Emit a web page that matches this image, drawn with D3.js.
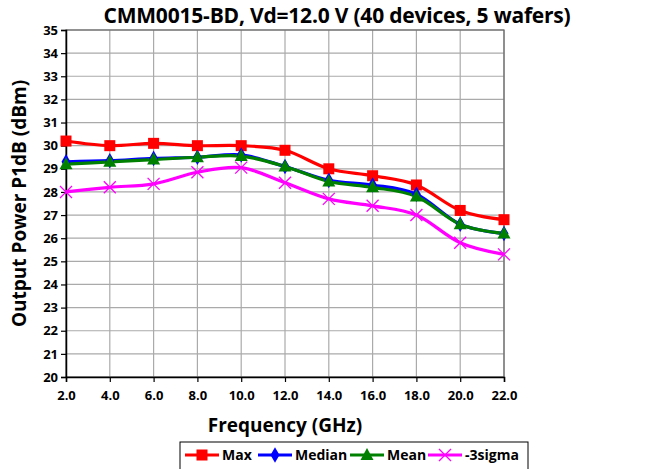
<!DOCTYPE html>
<html>
<head>
<meta charset="utf-8">
<script src="https://cdn.jsdelivr.net/npm/d3@7"></script>
<style>
	body { margin: 0; background: #fff; }
	text { font-family: "Open Sans", "Noto Sans", sans-serif; font-weight: bold; }
</style>
</head>
<body>
<svg id="chart" width="666" height="469"></svg>
<script>
	var freqs = [ 2, 4, 6, 8, 10, 12, 14, 16, 18, 20, 22 ];
	var maxVals = [ 30.2, 30.0, 30.1, 30.0, 30.0, 29.8, 29.0, 28.7, 28.3, 27.2, 26.8 ];
	var medianVals = [ 29.3, 29.35, 29.45, 29.5, 29.6, 29.1, 28.5, 28.3, 27.9, 26.6, 26.2 ];
	var meanVals = [ 29.2, 29.3, 29.4, 29.5, 29.55, 29.1, 28.45, 28.2, 27.8, 26.6, 26.2 ];
	var sigmaVals = [ 28.0, 28.2, 28.35, 28.85, 29.05, 28.4, 27.7, 27.4, 27.0, 25.8, 25.3 ];
	var seriesNames = [ "Max", "Median", "Mean", "-3sigma" ];
	var yTicks = d3.range(20, 36, 1);

	var series = [
		{ name : seriesNames[0], values : maxVals, color : "#ff0000", marker : "square" },
		{ name : seriesNames[1], values : medianVals, color : "#0000ff", marker : "diamond" },
		{ name : seriesNames[2], values : meanVals, color : "#008000", marker : "triangle" },
		{ name : seriesNames[3], values : sigmaVals, color : "#ff00ff", marker : "cross" }
	];

	var svg = d3.select("#chart");
	var plotLeft = 66, plotRight = 504, plotTop = 30, plotBottom = 377;

	var xScale = d3.scaleLinear().domain([ 2, 22 ]).range([ plotLeft, plotRight ]);
	var yScale = d3.scaleLinear().domain([ 20, 35 ]).range([ plotBottom, plotTop ]);

	// grid
	svg.append("g").selectAll("line").data(yTicks).enter().append("line")//
	.attr("x1", plotLeft).attr("x2", plotRight)//
	.attr("y1", function(d) { return yScale(d); })//
	.attr("y2", function(d) { return yScale(d); })//
	.style("stroke", "#aaa").style("stroke-width", 1.2);
	svg.append("g").selectAll("line").data(freqs).enter().append("line")//
	.attr("y1", plotTop).attr("y2", plotBottom)//
	.attr("x1", function(d) { return xScale(d); })//
	.attr("x2", function(d) { return xScale(d); })//
	.style("stroke", "#aaa").style("stroke-width", 1.2);
	svg.append("rect").attr("x", plotLeft).attr("y", plotTop).attr("width", plotRight - plotLeft).attr("height", plotBottom - plotTop)//
	.style("fill", "none").style("stroke", "#666").style("stroke-width", 1.2);

	// axes
	var yAxis = d3.axisLeft(yScale).tickValues(yTicks).tickSize(5).tickPadding(3).tickFormat(d3.format("d"));
	var gy = svg.append("g").attr("transform", "translate(" + plotLeft + ",0)").call(yAxis);
	var xAxis = d3.axisBottom(xScale).tickValues(freqs).tickSize(5).tickPadding(9).tickFormat(d3.format(".1f"));
	var gx = svg.append("g").attr("transform", "translate(0," + plotBottom + ")").call(xAxis);
	[ gy, gx ].forEach(function(g) {
		g.select(".domain").style("stroke", "#000").style("stroke-width", 1.5);
		g.selectAll(".tick line").style("stroke", "#000").style("stroke-width", 1.2);
		g.selectAll("text").style("font-size", "13px").style("fill", "#000")//
		.style("font-family", "'Open Sans', sans-serif").style("font-weight", "bold");
	});

	// lines
	var line = d3.line()//
	.x(function(d, i) { return xScale(freqs[i]); })//
	.y(function(d) { return yScale(d); })//
	.curve(d3.curveCatmullRom.alpha(0));

	function drawMarker(g, type, color, x, y) {
		if (type === "square") {
			g.append("rect").attr("x", x - 5.5).attr("y", y - 5.5).attr("width", 11).attr("height", 11).style("fill", color);
		} else if (type === "diamond") {
			g.append("path").attr("d", d3.symbol().type(d3.symbolDiamond).size(70)()).attr("transform", "translate(" + x + "," + y + ")").style("fill", color);
		} else if (type === "triangle") {
			g.append("path").attr("d", "M" + x + "," + (y - 7) + "L" + (x + 6.5) + "," + (y + 5) + "L" + (x - 6.5) + "," + (y + 5) + "Z").style("fill", color);
		} else {
			g.append("path").attr("d", "M" + (x - 6) + "," + (y - 6) + "L" + (x + 6) + "," + (y + 6) + "M" + (x - 6) + "," + (y + 6) + "L" + (x + 6) + "," + (y - 6))//
			.style("stroke", color).style("stroke-width", 1.3).style("fill", "none");
		}
	}

	series.forEach(function(s) {
		svg.append("path").attr("d", line(s.values))//
		.style("fill", "none").style("stroke", s.color).style("stroke-width", 3.2);
	});
	series.forEach(function(s) {
		var g = svg.append("g");
		s.values.forEach(function(v, i) {
			drawMarker(g, s.marker, s.color, xScale(freqs[i]), yScale(v));
		});
	});

	// titles
	svg.append("text").attr("x", 337).attr("y", 23).attr("text-anchor", "middle")//
	.style("font-size", "21px").style("letter-spacing", "-0.2px").text("CMM0015-BD, Vd=12.0 V (40 devices, 5 wafers)");
	svg.append("text").attr("x", 285).attr("y", 432).attr("text-anchor", "middle")//
	.style("font-size", "19px").text("Frequency (GHz)");
	svg.append("text").attr("transform", "translate(26," + ((plotTop + plotBottom) / 2) + ") rotate(-90)").attr("text-anchor", "middle")//
	.style("font-size", "19px").text("Output Power P1dB (dBm)");

	// legend
	var legend = svg.append("g");
	legend.append("rect").attr("x", 180).attr("y", 442).attr("width", 348).attr("height", 40)//
	.style("fill", "#fff").style("stroke", "#000").style("stroke-width", 1);
	var legendX = [ 185, 258, 350, 428 ];
	series.forEach(function(s, i) {
		var lx = legendX[i], ly = 455;
		legend.append("line").attr("x1", lx).attr("x2", lx + 34).attr("y1", ly).attr("y2", ly)//
		.style("stroke", s.color).style("stroke-width", 3);
		drawMarker(legend, s.marker, s.color, lx + 17, ly);
		legend.append("text").attr("x", lx + 37).attr("y", ly + 5).style("font-size", "14px").text(s.name);
	});
</script>
</body>
</html>
